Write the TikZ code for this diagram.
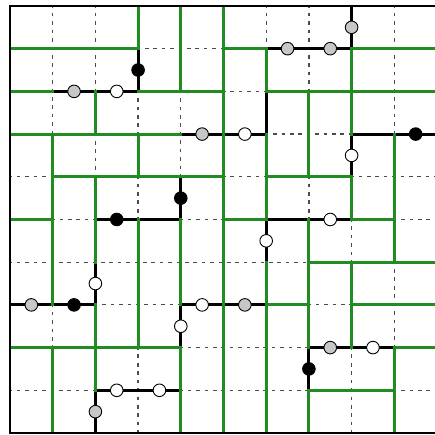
\documentclass[tikz,border=0pt]{standalone}
\usepackage{tikz}
\usetikzlibrary{arrows,shapes}
\definecolor{latticegreen}{RGB}{34,139,34}
\tikzstyle{gridedge} = [draw,line width=0.8pt,black!70,dash pattern=on 2.4pt off 3.2pt,dash phase=1pt]
\tikzstyle{greenedge} = [draw,line width=1.9pt,latticegreen,line cap=rect]
\tikzstyle{blackedge} = [draw,line width=1.9pt,black,line cap=rect]
\tikzstyle{site}=[circle,draw=black,line width=0.6pt,minimum size=8.4pt,inner sep=0pt]
\tikzstyle{graysite}=[site,fill=black!22]
\tikzstyle{whitesite}=[site,fill=white]
\tikzstyle{blacksite}=[site,fill=black]
\tikzstyle{bare}=[inner sep=0pt,minimum size=0pt]

\begin{document}
\begin{tikzpicture}

    \clip (-0.234,-0.047) rectangle (9.953,10.14);
    \useasboundingbox (-0.234,-0.047) rectangle (9.953,10.14);

    \foreach \c in {0,...,10}
        \foreach \r in {0,...,10}
            \coordinate (v\c-\r) at (\c,{10-\r});

    % dashed lattice edges
    \foreach \source/ \dest in {v3-1/v5-1, v5-2/v6-2, v6-3/v8-3, v0-4/v1-4, v5-4/v6-4, v8-4/v10-4, v1-5/v2-5, v4-5/v5-5, v9-5/v10-5, v0-6/v7-6, v2-7/v4-7, v7-7/v8-7, v4-8/v7-8, v0-9/v2-9, v4-9/v7-9, v9-9/v10-9,
        v1-0/v1-3, v1-7/v1-8, v2-0/v2-2, v2-3/v2-4, v3-2/v3-3, v3-4/v3-5, v3-8/v3-10, v4-2/v4-4, v6-0/v6-1, v7-0/v7-2, v7-4/v7-5, v8-5/v8-6, v8-8/v8-10, v9-0/v9-3, v9-6/v9-8}
        \path[gridedge] (\source) -- (\dest);

    % black edges and their sites
    \foreach \source/ \dest/ \kind/ \name in {v6-1/v7-1/graysite/g1, v7-1/v8-1/graysite/g2, v1-2/v2-2/graysite/g3, v2-2/v3-2/whitesite/w1, v4-3/v5-3/graysite/g4, v5-3/v6-3/whitesite/w2, v8-3/v9-3/bare/b1, v9-3/v10-3/blacksite/k1, v2-5/v3-5/blacksite/k2, v3-5/v4-5/bare/b2, v6-5/v7-5/bare/b3, v7-5/v8-5/whitesite/w3, v0-7/v1-7/graysite/g5, v1-7/v2-7/blacksite/k3, v4-7/v5-7/whitesite/w4, v5-7/v6-7/graysite/g6, v7-8/v8-8/graysite/g7, v8-8/v9-8/whitesite/w5, v2-9/v3-9/whitesite/w6, v3-9/v4-9/whitesite/w7,
        v2-6/v2-7/whitesite/w8, v2-9/v2-10/graysite/g8, v3-1/v3-2/blacksite/k4, v4-4/v4-5/blacksite/k5, v4-7/v4-8/whitesite/w9, v6-2/v6-3/bare/b4, v6-5/v6-6/whitesite/w10, v7-8/v7-9/blacksite/k6, v8-0/v8-1/graysite/g9, v8-3/v8-4/whitesite/w11}
        \path[blackedge] (\source) -- node[\kind] (\name) {} (\dest);

    % green edges
    \foreach \source/ \dest in {v0-1/v3-1, v5-1/v6-1, v8-1/v10-1, v0-2/v1-2, v3-2/v5-2, v6-2/v10-2, v0-3/v4-3, v1-4/v5-4, v6-4/v8-4, v0-5/v1-5, v5-5/v6-5, v8-5/v9-5, v7-6/v10-6, v6-7/v7-7, v8-7/v10-7, v0-8/v4-8, v9-8/v10-8, v7-9/v9-9,
        v1-3/v1-7, v1-8/v1-10, v2-2/v2-3, v2-4/v2-6, v2-7/v2-9, v3-0/v3-1, v3-3/v3-4, v3-5/v3-8, v4-0/v4-2, v4-5/v4-7, v4-8/v4-10, v5-0/v5-10, v6-1/v6-2, v6-3/v6-5, v6-6/v6-10, v7-2/v7-4, v7-5/v7-8, v7-9/v7-10, v8-1/v8-3, v8-4/v8-5, v8-6/v8-8, v9-3/v9-6, v9-8/v9-10}
        \path[greenedge] (\source) -- (\dest);

    % outer frame
    \draw[blackedge] (v10-0) -- (v0-0) -- (v0-10) -- (v10-10);

\end{tikzpicture}
\end{document}
